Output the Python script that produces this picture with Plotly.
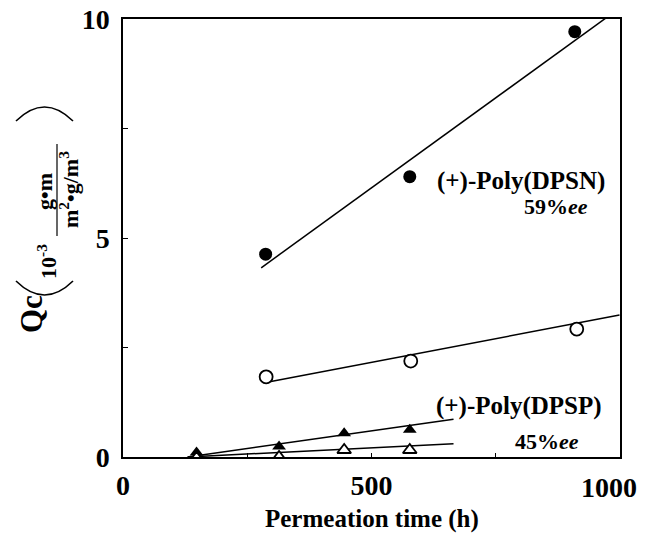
import plotly.graph_objects as go

# ---- data ----
dpsn_x = [287, 577, 909]
dpsn_y = [4.63, 6.40, 9.71]
dpsn_fit_x = [278, 975]
dpsn_fit_y = [4.32, 10.05]

open_c_x = [288, 579, 913]
open_c_y = [1.83, 2.19, 2.92]
open_c_fit_x = [295, 999]
open_c_fit_y = [1.72, 3.24]

dpsp_x = [148, 314, 445, 577]
dpsp_y = [0.10, 0.24, 0.54, 0.62]
dpsp_fit_x = [130, 665]
dpsp_fit_y = [0.0, 0.86]

open_t_x = [148, 314, 445, 577]
open_t_y = [-0.02, 0.0, 0.16, 0.16]
open_t_fit_x = [130, 665]
open_t_fit_y = [0.0, 0.30]

x_tickvals = [0, 250, 500, 750, 1000]
x_ticktext = ["<b>0</b>", "", "<b>500</b>", "", ""]
x_last_label = "1000"   # drawn as annotation so it is not clipped at the page edge
y_tickvals = [0, 2.5, 5, 7.5, 10]
y_ticktext = ["<b>0</b>", "", "<b>5</b>", "", "<b>10</b>"]

FONT = "Liberation Serif"
OFF = 8  # page body margin
W, H = 648 - OFF, 536 - OFF
# target plot area in window pixels: x 123..620, y 19..457
L = 123 - OFF
T = 19 - OFF
R = W - (620 - OFF)
B = H - (457 - OFF)

fig = go.Figure()
line_style = dict(color="black", width=1.5)

for fx, fy in [(dpsn_fit_x, dpsn_fit_y), (open_c_fit_x, open_c_fit_y),
               (dpsp_fit_x, dpsp_fit_y), (open_t_fit_x, open_t_fit_y)]:
    fig.add_trace(go.Scatter(x=fx, y=fy, mode="lines", line=line_style,
                             showlegend=False, hoverinfo="skip"))

fig.add_trace(go.Scatter(x=dpsn_x, y=dpsn_y, mode="markers", showlegend=False,
                         marker=dict(symbol="circle", size=13, color="black")))
fig.add_trace(go.Scatter(x=open_c_x, y=open_c_y, mode="markers", showlegend=False,
                         marker=dict(symbol="circle", size=13, color="white",
                                     line=dict(color="black", width=1.8))))
fig.add_trace(go.Scatter(x=dpsp_x, y=dpsp_y, mode="markers", showlegend=False,
                         marker=dict(symbol="triangle-up", size=12, color="black")))
fig.add_trace(go.Scatter(x=open_t_x, y=open_t_y, mode="markers", showlegend=False,
                         marker=dict(symbol="triangle-up", size=12, color="white",
                                     line=dict(color="black", width=1.8))))

pw = W - L - R
ph = H - T - B

def px(xp):  # window pixel -> paper
    return (xp - OFF - L) / pw

def py(yp):
    return (H - B - (yp - OFF)) / ph

ann = []
def add(text, xp, yp, size, angle=0, bold=True, xanchor="center", yanchor="middle"):
    t = "<b>" + text + "</b>" if bold else text
    ann.append(dict(text=t, x=px(xp), y=py(yp), xref="paper", yref="paper",
                    showarrow=False, textangle=angle, xanchor=xanchor, yanchor=yanchor,
                    font=dict(family=FONT, size=size, color="black")))

# last x tick label
add(x_last_label, 639, 487, 28, xanchor="right")

# series labels
add("(+)-Poly(DPSN)", 521, 181, 25)
add("59%<i>ee</i>", 556, 206, 22)
add("(+)-Poly(DPSP)", 519, 406, 25)
add("45%<i>ee</i>", 547, 441, 22)

# x-axis title
add("Permeation time (h)", 372, 519, 25)

# y-axis title (rotated pieces)
add("Qc", 31, 314, 31, angle=-90)
add("10<sup>-3</sup>", 47, 262, 22, angle=-90)
add("g•m", 45, 192, 22, angle=-90)
add("m<sup>2</sup>•g/m<sup>3</sup>", 69, 190, 22, angle=-90)

def arc(x0, y0, x1, y1, xc, yc):
    return ("M {:.4f},{:.4f} Q {:.4f},{:.4f} {:.4f},{:.4f}"
            .format(px(x0), py(y0), px(xc), py(yc), px(x1), py(y1)))

shapes = [
    dict(type="line", xref="paper", yref="paper",
         x0=px(57), x1=px(57), y0=py(144), y1=py(236),
         line=dict(color="black", width=1.2)),
    # big parentheses (rotated)
    dict(type="path", xref="paper", yref="paper",
         path=arc(16, 281, 73, 281, 44.5, 309), line=dict(color="black", width=1.6)),
    dict(type="path", xref="paper", yref="paper",
         path=arc(16, 121, 73, 121, 44.5, 93), line=dict(color="black", width=1.6)),
]

fig.update_layout(
    width=W, height=H,
    margin=dict(l=L, r=R, t=T, b=B, autoexpand=False),
    plot_bgcolor="white", paper_bgcolor="white",
    annotations=ann, shapes=shapes,
    xaxis=dict(range=[0, 1000], tickvals=x_tickvals, ticktext=x_ticktext,
               ticks="inside", ticklen=4, tickcolor="black", tickwidth=1,
               showline=True, linecolor="black", linewidth=1.5, mirror=True,
               showgrid=False, zeroline=False, ticklabelstandoff=3, automargin=False,
               ticklabeloverflow="allow",
               tickfont=dict(family=FONT, size=28, color="black")),
    yaxis=dict(range=[0, 10], tickvals=y_tickvals, ticktext=y_ticktext,
               ticks="inside", ticklen=5, tickcolor="black", tickwidth=1,
               showline=True, linecolor="black", linewidth=1.5, mirror=True,
               showgrid=False, zeroline=False, ticklabelstandoff=6, automargin=False,
               ticklabeloverflow="allow",
               tickfont=dict(family=FONT, size=28, color="black")),
)

fig.write_html("out.html")
